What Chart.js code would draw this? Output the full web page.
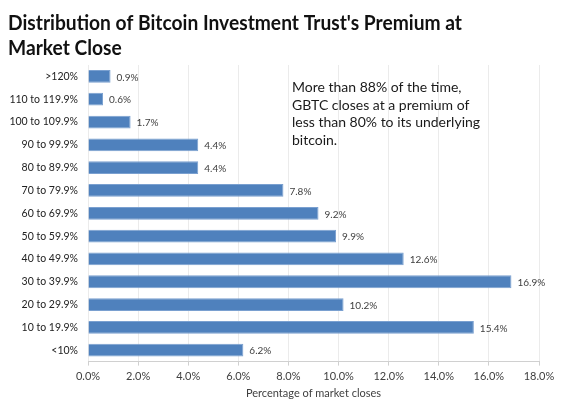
<!DOCTYPE html>
<html><head><meta charset="utf-8">
<script src="https://cdn.jsdelivr.net/npm/chart.js@4.4.1/dist/chart.umd.min.js"></script>
<style>html,body{margin:0;padding:0;background:#fff}#wrap{width:580px;height:406px}</style>
</head><body><div id="wrap"><canvas id="c"></canvas></div>
<script>
const categories = [">120%","110 to 119.9%","100 to 109.9%","90 to 99.9%","80 to 89.9%","70 to 79.9%","60 to 69.9%","50 to 59.9%","40 to 49.9%","30 to 39.9%","20 to 29.9%","10 to 19.9%","<10%"];
const values = [0.9,0.6,1.7,4.4,4.4,7.8,9.2,9.9,12.6,16.9,10.2,15.4,6.2];
const titleLines = ["Distribution of Bitcoin Investment Trust's Premium at","Market Close"];
const noteLines = ["More than 88% of the time,","GBTC closes at a premium of","less than 80% to its underlying","bitcoin."];
const xTitle = "Percentage of market closes";

const FONT = "Lato, 'Noto Sans', sans-serif";

const labelPlugin = {
  id:'labels',
  afterDatasetsDraw(chart){
    const ctx = chart.ctx;
    const meta = chart.getDatasetMeta(0);
    ctx.save();
    ctx.font = "10px " + FONT;
    ctx.fillStyle = "#404040";
    ctx.textBaseline = "middle";
    ctx.textAlign = "left";
    meta.data.forEach((bar,i)=>{
      ctx.fillText(values[i].toFixed(1)+"%", bar.x+6, bar.y+1);
    });
    ctx.font = "14px " + FONT;
    ctx.fillStyle = "#1a1a1a";
    ctx.textBaseline = "alphabetic";
    noteLines.forEach((t,i)=>{ ctx.fillText(t, 292, 92 + i*17.7); });
    // title
    ctx.font = "bold 21.5px " + FONT;
    ctx.fillStyle = "#111";
    const w = ctx.measureText(titleLines[0]).width;
    const sx = 454 / w;
    titleLines.forEach((t,i)=>{
      ctx.save();
      ctx.translate(8, 29.5 + i*25);
      ctx.scale(sx, 1);
      ctx.fillText(t, 0, 0);
      ctx.restore();
    });
    ctx.restore();
  }
};

new Chart(document.getElementById('c'), {
  type:'bar',
  data:{labels:categories, datasets:[{data:values, backgroundColor:'#4f81bd', borderColor:'#7aa0d0', borderWidth:1, barPercentage:0.56, categoryPercentage:1}]},
  options:{
    indexAxis:'y', responsive:true, maintainAspectRatio:false, animation:false,
    layout:{padding:{left:0,right:41,top:65,bottom:6}},
    plugins:{ legend:{display:false}, tooltip:{enabled:false}, title:{display:false} },
    scales:{
      x:{min:0,max:18, ticks:{stepSize:2, color:'#404040', font:{family:FONT,size:11}, padding:4, callback:v=>v.toFixed(1)+'%'},
        grid:{color:'#ebebeb', tickLength:4, tickColor:'#d0d0d0'},
        border:{color:'#d0d0d0'},
        title:{display:true, text:xTitle, color:'#404040', font:{family:FONT,size:11}, padding:{top:0,bottom:0}}},
      y:{ticks:{color:'#222', font:{family:FONT,size:10.5}, padding:10}, grid:{display:false, drawTicks:false}, border:{display:false},
        afterFit(s){ s.width = 88; }}
    }
  },
  plugins:[labelPlugin]
});
</script></body></html>
